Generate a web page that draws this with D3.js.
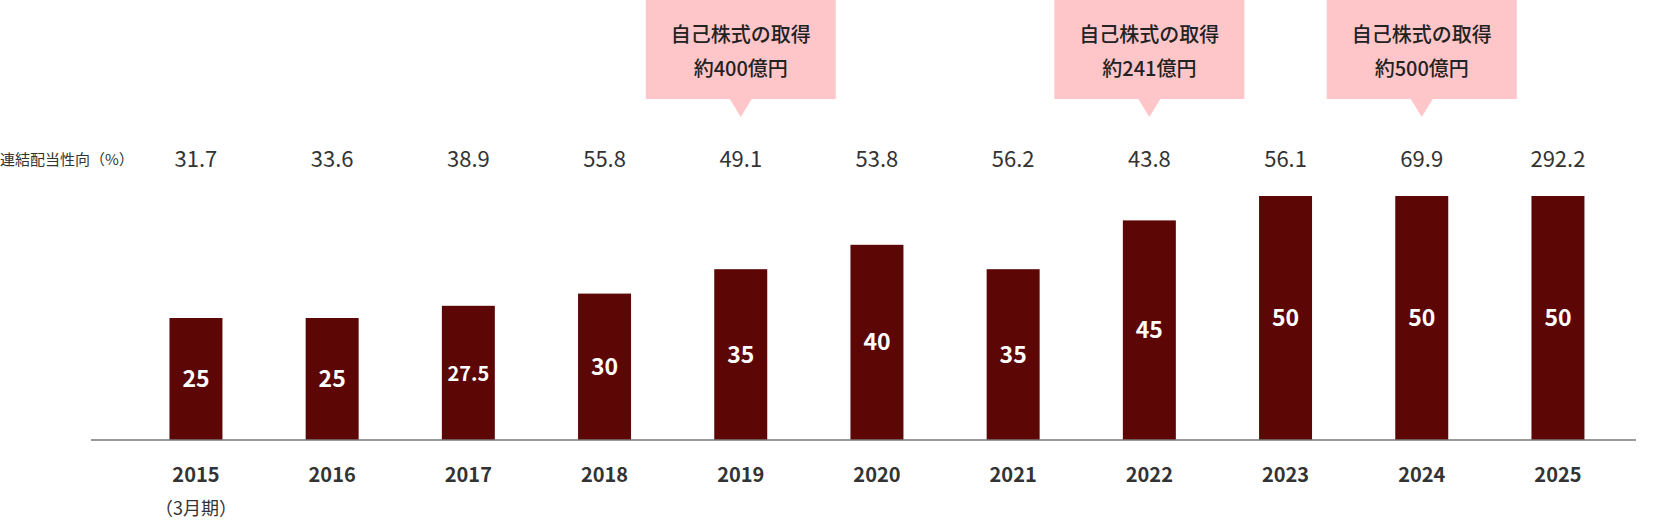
<!DOCTYPE html>
<html lang='ja'>
<head>
  <meta charset='UTF-8'>
  <script src='https://d3js.org/d3.v7.min.js'></script>
  <style>
    body { margin: 0; background: #fff; }
    text { font-family: 'Noto Sans CJK JP', 'Noto Sans', sans-serif; }
  </style>
</head>
<body>
<div id='main'></div>
<script>
  const years = ['2015', '2016', '2017', '2018', '2019', '2020', '2021', '2022', '2023', '2024', '2025']
  const dividends = [25, 25, 27.5, 30, 35, 40, 35, 45, 50, 50, 50]
  const payoutRatios = ['31.7', '33.6', '38.9', '55.8', '49.1', '53.8', '56.2', '43.8', '56.1', '69.9', '292.2']
  const buybackYears = ['2019', '2022', '2024']
  const buybackAmounts = ['約400億円', '約241億円', '約500億円']

  const width = 1665, height = 522
  const baseY = 440
  const svg = d3.select('#main').append('svg').attr('width', width).attr('height', height)

  // x 帯スケール
  const x = d3.scaleBand().domain(years).range([128.6, 1625.3]).paddingInner(0.611).paddingOuter(0.3)
  const y = d3.scaleLinear().domain([0, 50]).range([baseY, 196])

  // 棒
  svg.append('g').selectAll('rect').data(dividends).enter().append('rect')
    .attr('x', (d, i) => x(years[i]))
    .attr('y', d => y(d))
    .attr('width', x.bandwidth())
    .attr('height', d => baseY - y(d))
    .attr('fill', '#5c0606')

  // 棒の中の数値
  svg.append('g').selectAll('text').data(dividends).enter().append('text')
    .attr('x', (d, i) => x(years[i]) + x.bandwidth() / 2)
    .attr('y', d => (y(d) + baseY) / 2 + 8)
    .attr('text-anchor', 'middle')
    .attr('fill', '#fff')
    .attr('font-weight', 'bold')
    .attr('font-size', d => d === 27.5 ? '20px' : '23px')
    .text(d => d)

  // 軸線
  svg.append('line').attr('x1', 91).attr('x2', 1636).attr('y1', baseY).attr('y2', baseY)
    .attr('stroke', '#777').attr('stroke-width', 1.5)

  // 年ラベル
  const yl = svg.append('g')
  yl.selectAll('text').data(years).enter().append('text')
    .attr('x', d => x(d) + x.bandwidth() / 2)
    .attr('y', 482)
    .attr('text-anchor', 'middle')
    .attr('fill', '#333')
    .attr('font-weight', 'bold')
    .attr('font-size', '20px')
    .text(d => d)
  yl.append('text').attr('x', x(years[0]) + x.bandwidth() / 2).attr('y', 515)
    .attr('text-anchor', 'middle').attr('fill', '#333').attr('font-size', '18px').text('（3月期）')

  // 配当性向
  svg.append('text').attr('x', 0).attr('y', 165).attr('fill', '#333').attr('font-size', '15px').text('連結配当性向（%）')
  svg.append('g').selectAll('text').data(payoutRatios).enter().append('text')
    .attr('x', (d, i) => x(years[i]) + x.bandwidth() / 2)
    .attr('y', 167)
    .attr('text-anchor', 'middle')
    .attr('fill', '#333')
    .attr('font-size', '22px')
    .text(d => d)

  // 自己株式の取得 吹き出し
  const co = svg.append('g').selectAll('g').data(buybackYears).enter().append('g')
    .attr('transform', d => `translate(${x(d) + x.bandwidth() / 2},0)`)
  co.append('path')
    .attr('d', 'M-95,0H95V99H11L0,117L-11,99H-95Z')
    .attr('fill', '#ffc6c9')
  co.append('text').attr('y', 42).attr('text-anchor', 'middle').attr('fill', '#222')
    .attr('font-size', '20px').attr('font-weight', '500').text('自己株式の取得')
  co.append('text').attr('y', 76).attr('text-anchor', 'middle').attr('fill', '#222')
    .attr('font-size', '20px').attr('font-weight', '500').text((d, i) => buybackAmounts[i])
</script>
</body>
</html>
